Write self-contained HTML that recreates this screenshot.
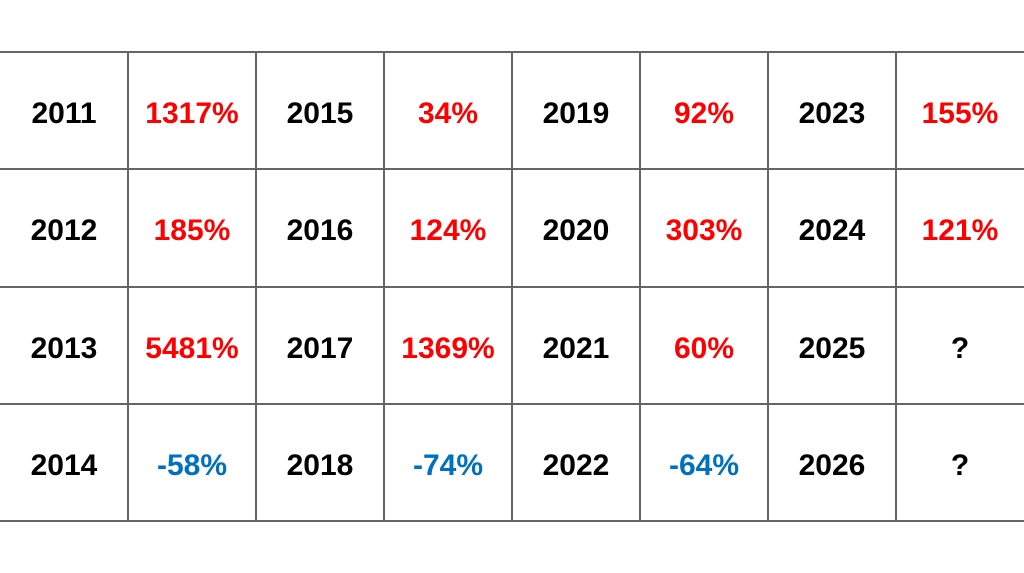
<!DOCTYPE html>
<html><head><meta charset="utf-8"><style>
html,body{margin:0;padding:0;background:#fff;}
body{width:1024px;height:573px;position:relative;overflow:hidden;font-family:"Liberation Sans","Noto Sans CJK JP",sans-serif;}
.h{position:absolute;left:0;width:1024px;height:2px;background:#666;}
.v{position:absolute;top:52px;height:470px;width:2px;background:#666;}
.c{position:absolute;width:128px;height:117px;line-height:123px;text-align:center;font-weight:bold;font-size:30px;color:#000;}
.r{color:#ff0000;}
.b{color:#0070c0;}
</style></head><body>
<div class="h" style="top:51px"></div>
<div class="h" style="top:168px"></div>
<div class="h" style="top:286px"></div>
<div class="h" style="top:403px"></div>
<div class="h" style="top:520px"></div>
<div class="v" style="left:127px"></div>
<div class="v" style="left:255px"></div>
<div class="v" style="left:383px"></div>
<div class="v" style="left:511px"></div>
<div class="v" style="left:639px"></div>
<div class="v" style="left:767px"></div>
<div class="v" style="left:895px"></div>

<div class="c" style="left:0;top:52px">2011</div>
<div class="c r" style="left:128px;top:52px">1317%</div>
<div class="c" style="left:256px;top:52px">2015</div>
<div class="c r" style="left:384px;top:52px">34%</div>
<div class="c" style="left:512px;top:52px">2019</div>
<div class="c r" style="left:640px;top:52px">92%</div>
<div class="c" style="left:768px;top:52px">2023</div>
<div class="c r" style="left:896px;top:52px">155%</div>

<div class="c" style="left:0;top:169px">2012</div>
<div class="c r" style="left:128px;top:169px">185%</div>
<div class="c" style="left:256px;top:169px">2016</div>
<div class="c r" style="left:384px;top:169px">124%</div>
<div class="c" style="left:512px;top:169px">2020</div>
<div class="c r" style="left:640px;top:169px">303%</div>
<div class="c" style="left:768px;top:169px">2024</div>
<div class="c r" style="left:896px;top:169px">121%</div>

<div class="c" style="left:0;top:287px">2013</div>
<div class="c r" style="left:128px;top:287px">5481%</div>
<div class="c" style="left:256px;top:287px">2017</div>
<div class="c r" style="left:384px;top:287px">1369%</div>
<div class="c" style="left:512px;top:287px">2021</div>
<div class="c r" style="left:640px;top:287px">60%</div>
<div class="c" style="left:768px;top:287px">2025</div>
<div class="c" style="left:896px;top:287px">?</div>

<div class="c" style="left:0;top:404px">2014</div>
<div class="c b" style="left:128px;top:404px">-58%</div>
<div class="c" style="left:256px;top:404px">2018</div>
<div class="c b" style="left:384px;top:404px">-74%</div>
<div class="c" style="left:512px;top:404px">2022</div>
<div class="c b" style="left:640px;top:404px">-64%</div>
<div class="c" style="left:768px;top:404px">2026</div>
<div class="c" style="left:896px;top:404px">?</div>
</body></html>
